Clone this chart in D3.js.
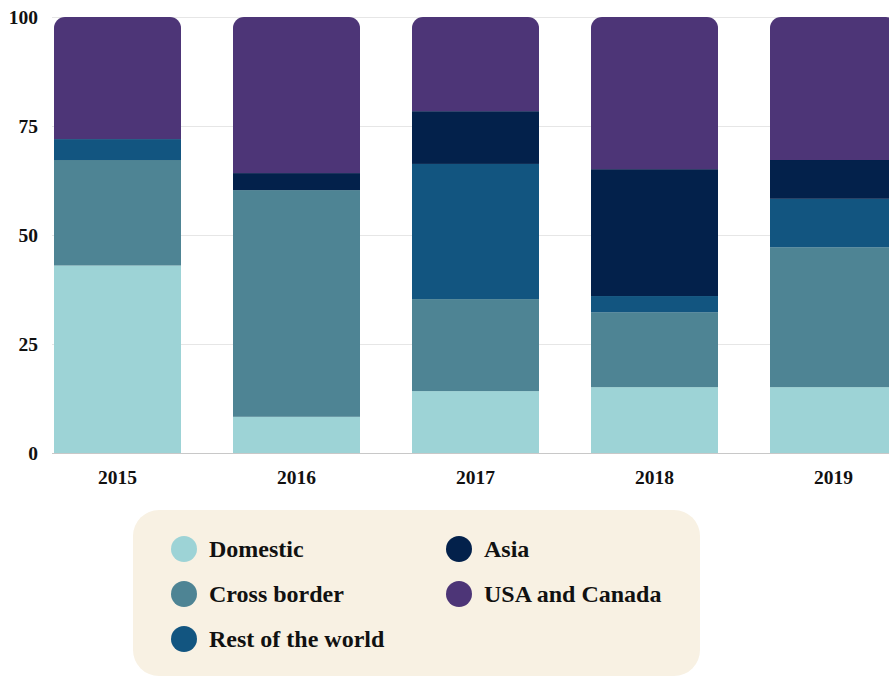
<!DOCTYPE html>
<html>
<head>
<meta charset="utf-8">
<script src="https://cdn.jsdelivr.net/npm/d3@7"></script>
<style>
  html, body { margin: 0; padding: 0; background: #fff; }
  svg { display: block; }
  text { font-family: "Liberation Serif", "DejaVu Serif", serif; font-weight: bold; fill: #111; }
</style>
</head>
<body>
<svg id="chart" width="889" height="677"></svg>
<script>
// data (percent shares, stacked bottom to top)
const years = ['2015', '2016', '2017', '2018', '2019'];
const series = ['Domestic', 'Cross border', 'Rest of the world', 'Asia', 'USA and Canada'];
const domestic = [43, 8.3, 14.2, 15.1, 15.1];
const crossBorder = [24.2, 52, 21.1, 17.2, 32.1];
const restOfWorld = [4.8, 0, 31, 3.7, 11.1];
const asia = [0, 3.9, 12.1, 29.1, 8.9];
const usaCanada = [28, 35.8, 21.6, 34.9, 32.8];
const yTicks = [0, 25, 50, 75, 100];
const colors = ['#9dd3d6', '#4e8494', '#125580', '#03214b', '#4d3577'];

const rows = years.map((yr, i) => ({
  year: yr,
  'Domestic': domestic[i],
  'Cross border': crossBorder[i],
  'Rest of the world': restOfWorld[i],
  'Asia': asia[i],
  'USA and Canada': usaCanada[i]
}));

const svg = d3.select('#chart');

const x = d3.scaleBand()
  .domain(years)
  .range([54, 897])
  .paddingInner(52 / 179)
  .paddingOuter(0);

const y = d3.scaleLinear().domain([0, 100]).range([453, 17]);

const color = d3.scaleOrdinal().domain(series).range(colors);

// grid lines
svg.append('g')
  .selectAll('line')
  .data(yTicks)
  .join('line')
  .attr('x1', 52)
  .attr('x2', 889)
  .attr('y1', d => y(d) + 0.5)
  .attr('y2', d => y(d) + 0.5)
  .attr('stroke', d => d === 0 ? '#c8c8c8' : '#e6e6e6')
  .attr('stroke-width', 1);

// y axis labels
svg.append('g')
  .selectAll('text')
  .data(yTicks)
  .join('text')
  .attr('x', 38)
  .attr('y', d => y(d))
  .attr('dy', '0.35em')
  .attr('text-anchor', 'end')
  .attr('font-size', 19.5)
  .text(d => d);

// x axis labels
svg.append('g')
  .selectAll('text')
  .data(years)
  .join('text')
  .attr('x', d => x(d) + x.bandwidth() / 2)
  .attr('y', 477)
  .attr('dy', '0.35em')
  .attr('text-anchor', 'middle')
  .attr('font-size', 19.5)
  .text(d => d);

// rounded top corners via clip paths
const radius = 11;
const defs = svg.append('defs');
years.forEach((yr, i) => {
  defs.append('clipPath')
    .attr('id', 'clip' + i)
    .append('rect')
    .attr('x', x(yr))
    .attr('y', y(100))
    .attr('width', x.bandwidth())
    .attr('height', y(0) - y(100) + radius)
    .attr('rx', radius);
});

const stacked = d3.stack().keys(series)(rows);

const barGroups = svg.append('g')
  .selectAll('g')
  .data(years)
  .join('g')
  .attr('clip-path', (d, i) => `url(#clip${i})`);

barGroups.each(function(yr, i) {
  d3.select(this)
    .selectAll('rect')
    .data(stacked.map(s => ({ key: s.key, v: s[i] })))
    .join('rect')
    .attr('x', x(yr))
    .attr('width', x.bandwidth())
    .attr('y', d => y(d.v[1]))
    .attr('height', d => Math.max(0, y(d.v[0]) - y(d.v[1])))
    .attr('fill', d => color(d.key));
});

// legend
const legend = svg.append('g');
legend.append('rect')
  .attr('x', 133)
  .attr('y', 510)
  .attr('width', 567)
  .attr('height', 166)
  .attr('rx', 26)
  .attr('fill', '#f8f1e3');

const legendPos = [
  [184, 549], [184, 594], [184, 639],
  [459, 549], [459, 594]
];

const items = legend.selectAll('g.item')
  .data(series)
  .join('g')
  .attr('class', 'item')
  .attr('transform', (d, i) => `translate(${legendPos[i][0]},${legendPos[i][1]})`);

items.append('circle')
  .attr('r', 13)
  .attr('fill', d => color(d));

items.append('text')
  .attr('x', 25)
  .attr('dy', '0.35em')
  .attr('font-size', 24)
  .text(d => d);
</script>
</body>
</html>
